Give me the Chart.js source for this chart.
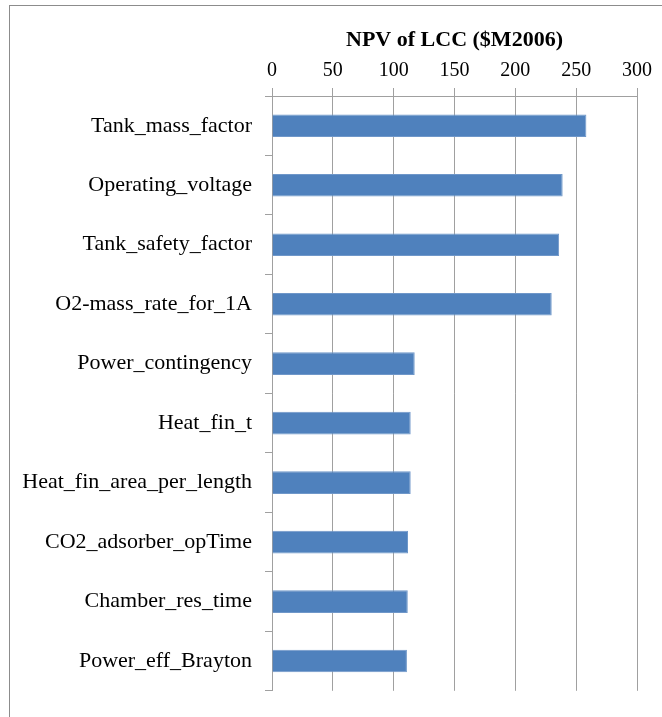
<!DOCTYPE html>
<html>
<head>
<meta charset="utf-8">
<script src="https://cdn.jsdelivr.net/npm/chart.js@4/dist/chart.umd.min.js"></script>
<style>
  html, body { margin: 0; padding: 0; background: #fff; overflow: hidden; }
  #frame { position: absolute; left: 9px; top: 5px; width: 720px; height: 760px; border: 1px solid #8c8c8c; }
  #c { position: absolute; left: 0; top: 0; }
</style>
</head>
<body>
<div id="frame"></div>
<canvas id="c" width="662" height="717"></canvas>
<script>
const categories = [
  "Tank_mass_factor",
  "Operating_voltage",
  "Tank_safety_factor",
  "O2-mass_rate_for_1A",
  "Power_contingency",
  "Heat_fin_t",
  "Heat_fin_area_per_length",
  "CO2_adsorber_opTime",
  "Chamber_res_time",
  "Power_eff_Brayton"
];
const npvValues = [258.4, 238.9, 236.0, 229.9, 117.3, 114.0, 114.0, 111.8, 111.6, 110.9];
const axisTitle = "NPV of LCC ($M2006)";
const xMin = 0, xMax = 300, xStep = 50;

new Chart(document.getElementById('c'), {
  type: 'bar',
  data: {
    labels: categories,
    datasets: [{
      data: npvValues,
      backgroundColor: '#4F81BD',
      borderColor: '#6f97c9',
      borderWidth: 1,
      barPercentage: 0.38,
      categoryPercentage: 1.0
    }]
  },
  options: {
    indexAxis: 'y',
    responsive: false,
    animation: false,
    layout: { padding: { left: 0, right: 25, top: 0, bottom: 18 } },
    plugins: { legend: { display: false }, tooltip: { enabled: false } },
    scales: {
      x: {
        position: 'top',
        min: xMin, max: xMax,
        ticks: { stepSize: xStep, color: '#000', padding: 7,
                 font: { family: 'Liberation Serif', size: 20, lineHeight: 1.0 } },
        grid: { color: '#a0a0a0', lineWidth: 1, tickLength: 8, drawTicks: true },
        border: { color: '#a0a0a0', width: 1 },
        title: { display: true, text: axisTitle, color: '#000',
                 font: { family: 'Liberation Serif', size: 22, weight: 'bold' },
                 padding: { top: 27, bottom: 0 } },
        afterFit: (s) => { s.height = 96; }
      },
      y: {
        offset: true,
        ticks: { color: '#000', padding: 13,
                 font: { family: 'Liberation Serif', size: 22 } },
        grid: { offset: true, drawOnChartArea: false, color: '#a0a0a0', tickLength: 7 },
        border: { color: '#a0a0a0', width: 1 },
        afterFit: (s) => { s.width = 272; }
      }
    }
  }
});
</script>
</body>
</html>
